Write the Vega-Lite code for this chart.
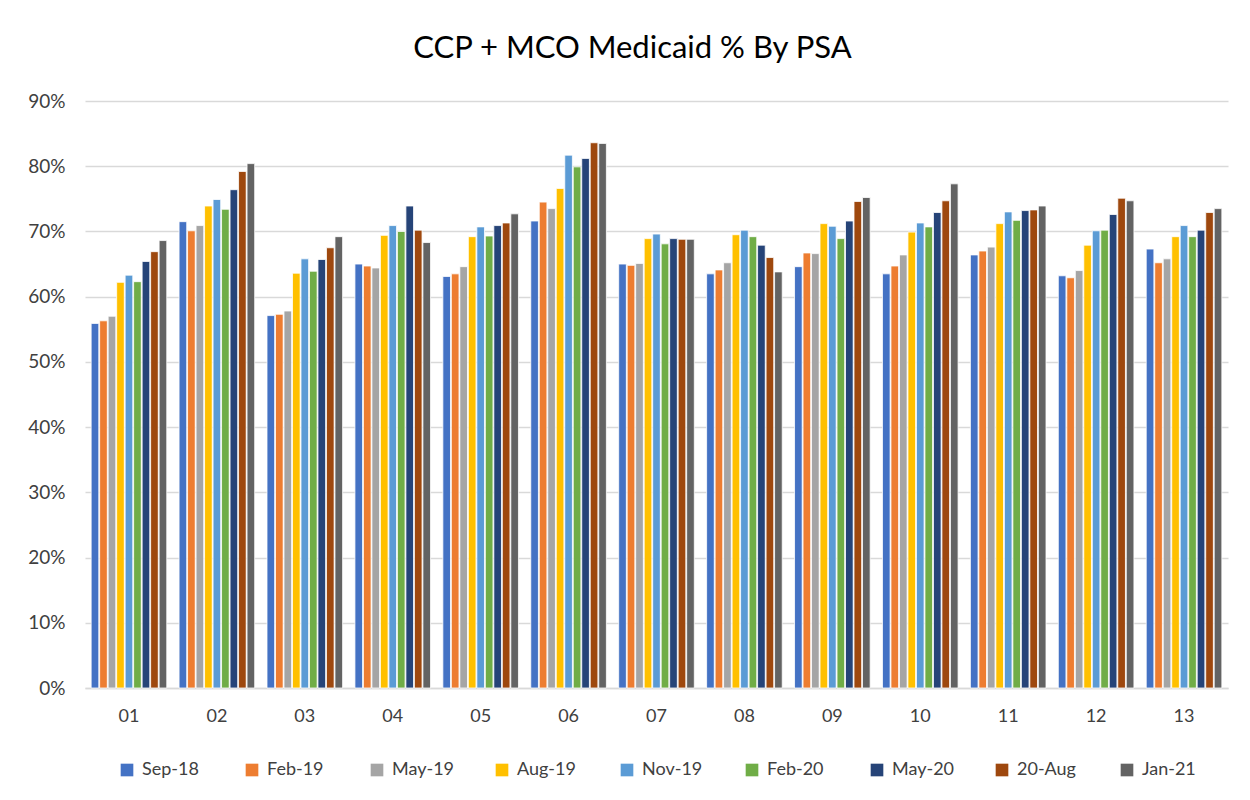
{
  "$schema": "https://vega.github.io/schema/vega-lite/v6.json",
  "autosize": "none",
  "width": 1143,
  "height": 587,
  "padding": {"left": 85, "top": 101, "right": 22, "bottom": 112},
  "background": "white",
  "title": {"text": "CCP + MCO Medicaid % By PSA", "fontSize": 31, "font": "Lato", "fontWeight": "normal", "color": "#000000", "offset": 27, "dx": -24},
  "data": {"values": [
    {"psa":"01","period":"Sep-18","v":55.9},{"psa":"01","period":"Feb-19","v":56.3},{"psa":"01","period":"May-19","v":57.0},{"psa":"01","period":"Aug-19","v":62.2},{"psa":"01","period":"Nov-19","v":63.3},{"psa":"01","period":"Feb-20","v":62.3},{"psa":"01","period":"May-20","v":65.4},{"psa":"01","period":"20-Aug","v":66.9},{"psa":"01","period":"Jan-21","v":68.6},
    {"psa":"02","period":"Sep-18","v":71.5},{"psa":"02","period":"Feb-19","v":70.1},{"psa":"02","period":"May-19","v":70.9},{"psa":"02","period":"Aug-19","v":73.9},{"psa":"02","period":"Nov-19","v":74.9},{"psa":"02","period":"Feb-20","v":73.4},{"psa":"02","period":"May-20","v":76.4},{"psa":"02","period":"20-Aug","v":79.2},{"psa":"02","period":"Jan-21","v":80.4},
    {"psa":"03","period":"Sep-18","v":57.1},{"psa":"03","period":"Feb-19","v":57.3},{"psa":"03","period":"May-19","v":57.8},{"psa":"03","period":"Aug-19","v":63.6},{"psa":"03","period":"Nov-19","v":65.8},{"psa":"03","period":"Feb-20","v":63.9},{"psa":"03","period":"May-20","v":65.7},{"psa":"03","period":"20-Aug","v":67.5},{"psa":"03","period":"Jan-21","v":69.2},
    {"psa":"04","period":"Sep-18","v":65.0},{"psa":"04","period":"Feb-19","v":64.7},{"psa":"04","period":"May-19","v":64.4},{"psa":"04","period":"Aug-19","v":69.4},{"psa":"04","period":"Nov-19","v":70.9},{"psa":"04","period":"Feb-20","v":70.0},{"psa":"04","period":"May-20","v":73.9},{"psa":"04","period":"20-Aug","v":70.2},{"psa":"04","period":"Jan-21","v":68.3},
    {"psa":"05","period":"Sep-18","v":63.1},{"psa":"05","period":"Feb-19","v":63.5},{"psa":"05","period":"May-19","v":64.6},{"psa":"05","period":"Aug-19","v":69.2},{"psa":"05","period":"Nov-19","v":70.7},{"psa":"05","period":"Feb-20","v":69.3},{"psa":"05","period":"May-20","v":70.9},{"psa":"05","period":"20-Aug","v":71.3},{"psa":"05","period":"Jan-21","v":72.7},
    {"psa":"06","period":"Sep-18","v":71.6},{"psa":"06","period":"Feb-19","v":74.5},{"psa":"06","period":"May-19","v":73.5},{"psa":"06","period":"Aug-19","v":76.6},{"psa":"06","period":"Nov-19","v":81.7},{"psa":"06","period":"Feb-20","v":79.9},{"psa":"06","period":"May-20","v":81.2},{"psa":"06","period":"20-Aug","v":83.6},{"psa":"06","period":"Jan-21","v":83.5},
    {"psa":"07","period":"Sep-18","v":65.0},{"psa":"07","period":"Feb-19","v":64.8},{"psa":"07","period":"May-19","v":65.1},{"psa":"07","period":"Aug-19","v":68.9},{"psa":"07","period":"Nov-19","v":69.6},{"psa":"07","period":"Feb-20","v":68.1},{"psa":"07","period":"May-20","v":68.9},{"psa":"07","period":"20-Aug","v":68.8},{"psa":"07","period":"Jan-21","v":68.8},
    {"psa":"08","period":"Sep-18","v":63.5},{"psa":"08","period":"Feb-19","v":64.1},{"psa":"08","period":"May-19","v":65.2},{"psa":"08","period":"Aug-19","v":69.5},{"psa":"08","period":"Nov-19","v":70.2},{"psa":"08","period":"Feb-20","v":69.2},{"psa":"08","period":"May-20","v":67.9},{"psa":"08","period":"20-Aug","v":66.0},{"psa":"08","period":"Jan-21","v":63.8},
    {"psa":"09","period":"Sep-18","v":64.6},{"psa":"09","period":"Feb-19","v":66.7},{"psa":"09","period":"May-19","v":66.6},{"psa":"09","period":"Aug-19","v":71.2},{"psa":"09","period":"Nov-19","v":70.8},{"psa":"09","period":"Feb-20","v":68.9},{"psa":"09","period":"May-20","v":71.6},{"psa":"09","period":"20-Aug","v":74.6},{"psa":"09","period":"Jan-21","v":75.2},
    {"psa":"10","period":"Sep-18","v":63.5},{"psa":"10","period":"Feb-19","v":64.7},{"psa":"10","period":"May-19","v":66.4},{"psa":"10","period":"Aug-19","v":69.9},{"psa":"10","period":"Nov-19","v":71.3},{"psa":"10","period":"Feb-20","v":70.7},{"psa":"10","period":"May-20","v":72.9},{"psa":"10","period":"20-Aug","v":74.7},{"psa":"10","period":"Jan-21","v":77.3},
    {"psa":"11","period":"Sep-18","v":66.4},{"psa":"11","period":"Feb-19","v":67.0},{"psa":"11","period":"May-19","v":67.6},{"psa":"11","period":"Aug-19","v":71.2},{"psa":"11","period":"Nov-19","v":73.0},{"psa":"11","period":"Feb-20","v":71.7},{"psa":"11","period":"May-20","v":73.2},{"psa":"11","period":"20-Aug","v":73.3},{"psa":"11","period":"Jan-21","v":73.9},
    {"psa":"12","period":"Sep-18","v":63.2},{"psa":"12","period":"Feb-19","v":62.9},{"psa":"12","period":"May-19","v":64.0},{"psa":"12","period":"Aug-19","v":67.9},{"psa":"12","period":"Nov-19","v":70.1},{"psa":"12","period":"Feb-20","v":70.2},{"psa":"12","period":"May-20","v":72.6},{"psa":"12","period":"20-Aug","v":75.1},{"psa":"12","period":"Jan-21","v":74.7},
    {"psa":"13","period":"Sep-18","v":67.3},{"psa":"13","period":"Feb-19","v":65.2},{"psa":"13","period":"May-19","v":65.8},{"psa":"13","period":"Aug-19","v":69.2},{"psa":"13","period":"Nov-19","v":70.9},{"psa":"13","period":"Feb-20","v":69.2},{"psa":"13","period":"May-20","v":70.2},{"psa":"13","period":"20-Aug","v":72.9},{"psa":"13","period":"Jan-21","v":73.5}
  ]},
  "mark": {"type": "bar", "stroke": "white", "strokeWidth": 0.8},
  "encoding": {
    "x": {"field": "psa", "type": "nominal", "title": null,
      "scale": {"paddingInner": 0.14, "paddingOuter": 0.07},
      "axis": {"labelAngle": 0, "labelFontSize": 18, "labelFont": "Lato", "labelColor": "#404040", "labelPadding": 19, "ticks": false, "domainColor": "#d9d9d9", "domainWidth": 1.5, "grid": false}},
    "xOffset": {"field": "period", "type": "nominal", "sort": ["Sep-18","Feb-19","May-19","Aug-19","Nov-19","Feb-20","May-20","20-Aug","Jan-21"], "scale": {"paddingInner": 0.1}},
    "y": {"field": "v", "type": "quantitative", "title": null,
      "scale": {"domain": [0, 90], "nice": false},
      "axis": {"values": [0,10,20,30,40,50,60,70,80,90], "labelExpr": "datum.value + '%'", "labelFontSize": 19, "labelFont": "Lato", "labelColor": "#404040", "labelPadding": 20, "ticks": false, "domain": false, "gridColor": "#d9d9d9", "gridWidth": 1.5}},
    "color": {"field": "period", "type": "nominal", "title": null,
      "sort": ["Sep-18","Feb-19","May-19","Aug-19","Nov-19","Feb-20","May-20","20-Aug","Jan-21"],
      "scale": {"domain": ["Sep-18","Feb-19","May-19","Aug-19","Nov-19","Feb-20","May-20","20-Aug","Jan-21"],
        "range": ["#4472C4","#ED7D31","#A5A5A5","#FFC000","#5B9BD5","#70AD47","#264478","#9E480E","#636363"]},
      "legend": {"orient": "bottom", "direction": "horizontal", "columns": 9, "gridAlign": "all", "symbolType": "square", "symbolSize": 160, "symbolStrokeWidth": 0, "labelFontSize": 18, "labelFont": "Lato", "labelColor": "#404040", "columnPadding": 38, "labelOffset": 6, "offset": 36}}
  },
  "config": {"view": {"stroke": null}, "legend": {"layout": {"bottom": {"anchor": "middle", "direction": "horizontal"}}}}
}
